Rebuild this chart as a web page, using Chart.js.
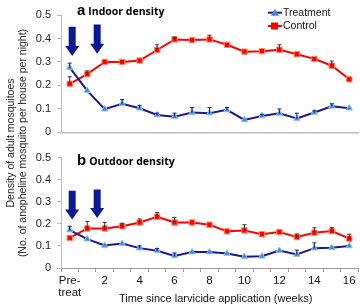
<!DOCTYPE html>
<html>
<head>
<meta charset="utf-8">
<script src="https://cdn.jsdelivr.net/npm/chart.js@4/dist/chart.umd.min.js"></script>
<style>
  body { margin: 0; background: #fff; }
  #wrap { position: relative; width: 360px; height: 308px; overflow: hidden; font-family: "Liberation Sans", Arial, sans-serif; }
  #cTop { position: absolute; left: 0; top: 0; }
  #cBot { position: absolute; left: 0; top: 145px; }
  .panel { position: absolute; left: 77px; white-space: nowrap; color: #000; }
  .panel b { font-family: "Liberation Sans", Arial, sans-serif; font-size: 15px; }
  .panel span { font-family: "Open Sans", sans-serif; font-weight: bold; font-size: 10.5px; margin-left: 3px; }
  #ytitle { position: absolute; left: -134px; top: 131px; width: 300px; height: 24px; line-height: 12px;
            font-size: 10.5px; text-align: center; color: #222; transform: rotate(-90deg); white-space: nowrap; }
</style>
</head>
<body>
<div id="wrap">
  <canvas id="cTop" width="360" height="145"></canvas>
  <canvas id="cBot" width="360" height="163"></canvas>
  <div class="panel" style="top:1px"><b>a</b><span>Indoor density</span></div>
  <div class="panel" style="top:151px"><b>b</b><span>Outdoor density</span></div>
  <div id="ytitle">Density of adult mosquitoes<br>(No. of anopheline mosquito per house per night)</div>
</div>
<script>
// semanas (0 = pre-tratamento)
var semanas = [['Pre-', 'treat'], '1', '2', '3', '4', '5', '6', '7', '8', '9', '10', '11', '12', '13', '14', '15', '16'];

// painel a - dentro de casa
var indoorTratamento = [0.276, 0.178, 0.099, 0.122, 0.103, 0.074, 0.067, 0.085, 0.082, 0.096, 0.053, 0.070, 0.081, 0.059, 0.085, 0.111, 0.103];
var indoorTratamentoErro = [0.295, null, null, 0.140, 0.115, 0.082, 0.082, 0.106, 0.106, 0.106, null, 0.077, 0.100, 0.082, 0.092, 0.122, null];
var indoorControle = [0.207, 0.248, 0.300, 0.300, 0.306, 0.351, 0.396, 0.393, 0.396, 0.373, 0.344, 0.346, 0.352, 0.333, 0.313, 0.284, 0.226];
var indoorControleErro = [0.237, 0.262, null, null, null, 0.373, 0.406, null, 0.414, null, null, null, 0.373, null, null, 0.304, null];

// painel b - fora de casa
var outdoorTratamento = [0.172, 0.131, 0.102, 0.111, 0.090, 0.078, 0.055, 0.072, 0.072, 0.066, 0.051, 0.053, 0.079, 0.061, 0.090, 0.092, 0.100];
var outdoorTratamentoErro = [0.189, null, null, null, 0.100, 0.088, 0.068, null, null, null, null, null, null, 0.081, 0.114, null, null];
var outdoorControle = [0.136, 0.179, 0.179, 0.189, 0.206, 0.232, 0.206, 0.206, 0.196, 0.166, 0.170, 0.153, 0.163, 0.140, 0.160, 0.167, 0.133];
var outdoorControleErro = [null, 0.211, 0.206, 0.203, 0.222, 0.251, 0.229, null, null, null, 0.196, null, null, 0.154, 0.182, 0.183, 0.153];

// setas de aplicacao do larvicida (posicao em semanas, topo e ponta em densidade)
var setaSemana = [0.14, 1.57];
var setaTopoIndoor = [0.450, 0.460];
var setaPontaIndoor = [0.325, 0.335];
var setaTopoOutdoor = [0.350, 0.355];
var setaPontaOutdoor = [0.220, 0.227];

var corTratamento = '#1a1a8a';
var corControle = '#ff0000';
var fonte = '"Liberation Sans", Arial, sans-serif';

function criarDatasets(trat, tratErro, ctrl, ctrlErro) {
    return [{
        label: 'Treatment',
        data: trat,
        erro: tratErro,
        corErro: corTratamento,
        borderColor: corTratamento,
        backgroundColor: '#3f86d8',
        pointBackgroundColor: '#3f86d8',
        pointBorderColor: '#8fbdea',
        pointStyle: 'triangle',
        pointRadius: 3.6,
        pointBorderWidth: 1,
        borderWidth: 2,
        tension: 0
    }, {
        label: 'Control',
        data: ctrl,
        erro: ctrlErro,
        corErro: '#333',
        borderColor: corControle,
        backgroundColor: corControle,
        pointBackgroundColor: corControle,
        pointBorderColor: '#ff8a6a',
        pointStyle: 'rect',
        pointRadius: 3.8,
        pointBorderWidth: 1,
        borderWidth: 2,
        tension: 0
    }];
}

var pluginErro = {
    id: 'barrasErro',
    afterDatasetsDraw: function (chart) {
        var ctx = chart.ctx;
        var y = chart.scales.y;
        chart.data.datasets.forEach(function (ds, d) {
            var meta = chart.getDatasetMeta(d);
            ctx.save();
            ctx.strokeStyle = ds.corErro;
            ctx.lineWidth = 1;
            for (var i = 0; i < ds.erro.length; i++) {
                if (ds.erro[i] == null) continue;
                var p = meta.data[i];
                var yTop = y.getPixelForValue(ds.erro[i]);
                ctx.beginPath();
                ctx.moveTo(p.x, p.y);
                ctx.lineTo(p.x, yTop);
                ctx.moveTo(p.x - 2, yTop);
                ctx.lineTo(p.x + 2, yTop);
                ctx.stroke();
            }
            ctx.restore();
        });
    }
};

function pluginSetas(topos, pontas) {
    return {
        id: 'setas',
        afterDraw: function (chart) {
            var ctx = chart.ctx;
            var x = chart.scales.x, y = chart.scales.y;
            ctx.save();
            ctx.fillStyle = '#0b1a94';
            for (var i = 0; i < setaSemana.length; i++) {
                var px = x.getPixelForValue(setaSemana[i]);
                var yt = y.getPixelForValue(topos[i]);
                var yp = y.getPixelForValue(pontas[i]);
                var yh = yp - 10;
                ctx.beginPath();
                ctx.moveTo(px - 3.5, yt);
                ctx.lineTo(px + 3.5, yt);
                ctx.lineTo(px + 3.5, yh);
                ctx.lineTo(px + 7, yh);
                ctx.lineTo(px, yp);
                ctx.lineTo(px - 7, yh);
                ctx.lineTo(px - 3.5, yh);
                ctx.closePath();
                ctx.fill();
            }
            ctx.restore();
        }
    };
}

var pluginLegenda = {
    id: 'legendaManual',
    afterDraw: function (chart) {
        var ctx = chart.ctx;
        ctx.save();
        chart.data.datasets.forEach(function (ds, d) {
            var yy = 12.7 + d * 13.3;
            ctx.strokeStyle = ds.borderColor;
            ctx.lineWidth = 2;
            ctx.beginPath();
            ctx.moveTo(268, yy);
            ctx.lineTo(282, yy);
            ctx.stroke();
            ctx.fillStyle = ds.pointBackgroundColor;
            ctx.beginPath();
            if (ds.pointStyle == 'rect') {
                ctx.fillRect(271, yy - 3.5, 7, 7);
            } else {
                ctx.moveTo(275, yy - 4);
                ctx.lineTo(279, yy + 3);
                ctx.lineTo(271, yy + 3);
                ctx.closePath();
                ctx.fill();
            }
            ctx.fillStyle = '#111';
            ctx.font = '10.5px ' + fonte;
            ctx.textBaseline = 'middle';
            ctx.fillText(ds.label, 283, yy + 0.5);
        });
        ctx.restore();
    }
};

function eixoY() {
    return {
        min: 0,
        max: 0.5,
        afterFit: function (s) { s.width = 61; },
        ticks: { stepSize: 0.1, color: '#222', padding: 6, font: { size: 11, family: fonte } },
        grid: { drawOnChartArea: false, tickLength: 4, color: '#bbb' },
        border: { color: '#bbb' }
    };
}

Chart.defaults.animation = false;

new Chart(document.getElementById('cTop'), {
    type: 'line',
    data: { labels: semanas, datasets: criarDatasets(indoorTratamento, indoorTratamentoErro, indoorControle, indoorControleErro) },
    options: {
        responsive: false,
        layout: { autoPadding: false, padding: { left: 0, right: 2, top: 15, bottom: 9.5 } },
        plugins: { legend: { display: false }, tooltip: { enabled: false } },
        scales: {
            x: {
                offset: true,
                afterFit: function (s) { s.height = 0; },
                ticks: { display: false },
                grid: { display: false },
                border: { color: '#bbb', width: 1.5 }
            },
            y: eixoY()
        }
    },
    plugins: [pluginErro, pluginSetas(setaTopoIndoor, setaPontaIndoor), pluginLegenda]
});

new Chart(document.getElementById('cBot'), {
    type: 'line',
    data: { labels: semanas, datasets: criarDatasets(outdoorTratamento, outdoorTratamentoErro, outdoorControle, outdoorControleErro) },
    options: {
        responsive: false,
        layout: { autoPadding: false, padding: { left: 0, right: 2, top: 7.6, bottom: 0 } },
        plugins: { legend: { display: false }, tooltip: { enabled: false } },
        scales: {
            x: {
                offset: true,
                afterFit: function (s) { s.height = 40; },
                ticks: {
                    autoSkip: false,
                    maxRotation: 0,
                    padding: 3,
                    color: '#111',
                    font: { size: 11.5, family: fonte, lineHeight: 1.05 },
                    callback: function (v, i) { return i % 2 == 0 ? this.getLabelForValue(v) : ''; }
                },
                grid: { drawOnChartArea: false, offset: true, tickLength: 4, color: '#999' },
                border: { color: '#999' },
                title: {
                    display: true,
                    text: '    Time since larvicide application (weeks)',
                    color: '#111',
                    padding: { top: 0, bottom: 2 },
                    font: { size: 11, family: fonte }
                }
            },
            y: eixoY()
        }
    },
    plugins: [pluginErro, pluginSetas(setaTopoOutdoor, setaPontaOutdoor)]
});
</script>
</body>
</html>
